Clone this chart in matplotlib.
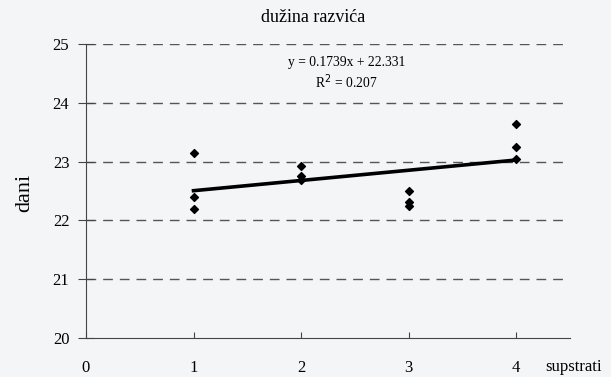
import matplotlib
matplotlib.use("Agg")
import matplotlib.pyplot as plt
import numpy as np

plt.rcParams['font.family'] = ['Liberation Serif', 'DejaVu Serif']

substrates = [1, 1, 1, 2, 2, 2, 3, 3, 3, 4, 4, 4]
days = [23.15, 22.40, 22.20, 22.92, 22.75, 22.68, 22.50, 22.32, 22.25, 23.64, 23.24, 23.04]
slope = 0.1739
intercept = 22.331
r2 = 0.207
title = "dužina razvića"
xlabel = "supstrati"
ylabel = "dani"
xticks = [0, 1, 2, 3, 4]
yticks = [20, 21, 22, 23, 24, 25]

bg = "#f4f5f6"
fig = plt.figure(figsize=(6.11, 3.77), dpi=100, facecolor=bg)
ax = fig.add_axes([0.1407, 0.1035, 0.792, 0.7798], facecolor=bg)

ax.set_xlim(0, 4.5)
ax.set_ylim(20, 25)

for yv in yticks[1:]:
    ax.axhline(yv, color="#555555", lw=1.0, ls=(0, (7, 5)), zorder=1, xmax=0.985)

xs = np.array([min(substrates), max(substrates)])
ax.plot(xs, slope * xs + intercept, color="black", lw=2.6, zorder=2)
ax.scatter(substrates, days, marker="D", s=16, color="black", zorder=3)

for s in ["top", "right"]:
    ax.spines[s].set_visible(False)
ax.spines["left"].set_color("#444444")
ax.spines["bottom"].set_color("#444444")

ax.set_xticks(xticks)
ax.set_yticks(yticks)
ax.tick_params(axis="y", direction="inout", length=12, labelsize=12, pad=6, color="#444444")
ax.tick_params(axis="x", direction="in", length=4, labelsize=12, pad=16, color="#444444")

ax.text(0.469, 1.09, title, transform=ax.transAxes, fontsize=13, ha="center", va="center")
fig.text(25 / 611, 1 - 193 / 377, ylabel, fontsize=16, rotation=90, ha="center", va="center")
ax.text(4.27, -0.1, xlabel, transform=ax.get_xaxis_transform(), fontsize=12,
        ha="left", va="center", clip_on=False)

ax.text(2.42, 24.68, f"y = {slope}x + {intercept}", fontsize=9.8, ha="center", va="center")
ax.text(2.42, 24.36, f"R$^2$ = {r2}", fontsize=9.8, ha="center", va="center")

fig.savefig("out.png", dpi=100, facecolor=bg)
